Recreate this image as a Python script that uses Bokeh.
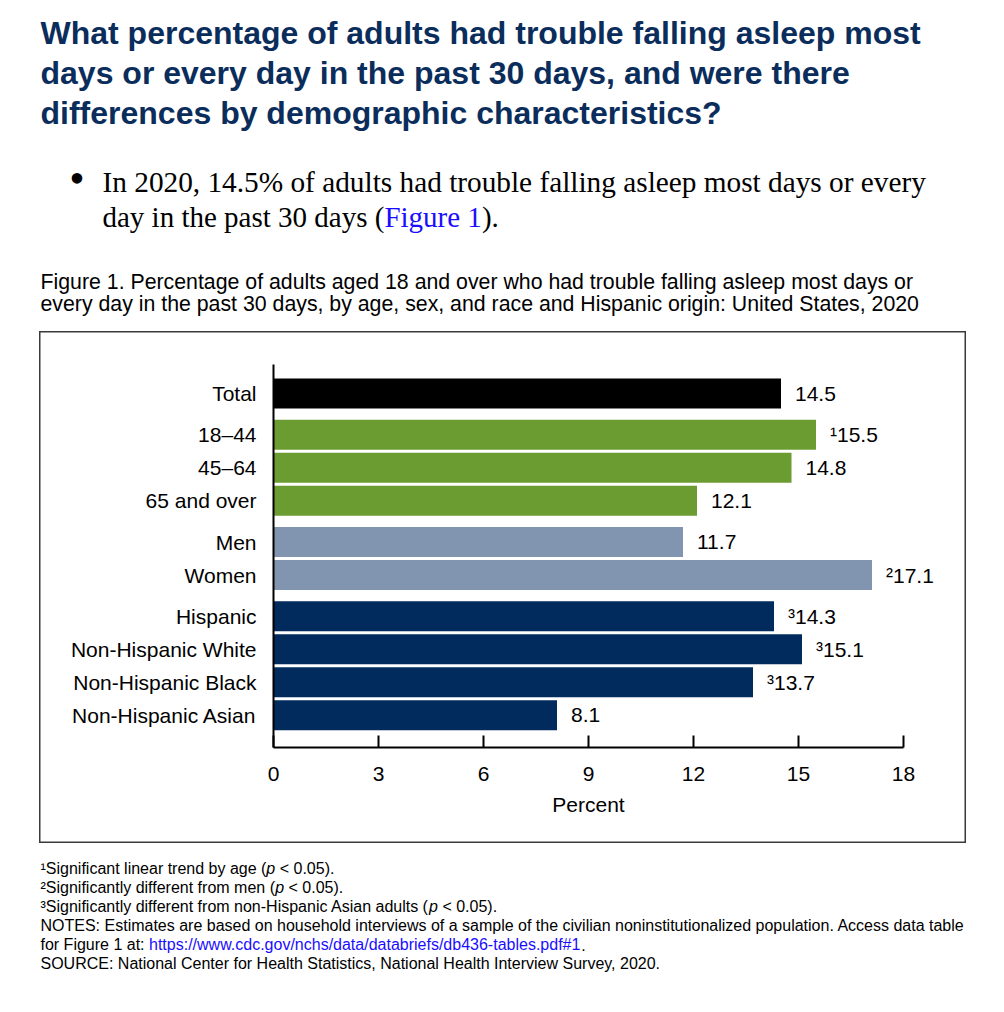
from bokeh.plotting import figure
from bokeh.layouts import column, row
from bokeh.models import (Range1d, FixedTicker, Label, LabelSet, ColumnDataSource, Spacer,
                          InlineStyleSheet, Title)
from bokeh.embed import file_html
from bokeh.resources import INLINE
from bokeh.core.properties import value

# ---------------- data ----------------
categories = ["Total", "18–44", "45–64", "65 and over", "Men", "Women",
              "Hispanic", "Non-Hispanic White", "Non-Hispanic Black", "Non-Hispanic Asian"]
groups = ["Total", "Age", "Age", "Age", "Sex", "Sex", "Race", "Race", "Race", "Race"]
percent = [14.5, 15.5, 14.8, 12.1, 11.7, 17.1, 14.3, 15.1, 13.7, 8.1]
note_marks = ["", "1", "", "", "", "2", "3", "3", "3", ""]
x_ticks = [0, 3, 6, 9, 12, 15, 18]

group_colors = {"Total": "#000000", "Age": "#6b9c31", "Sex": "#8195b0", "Race": "#002b5c"}
SUP = {"1": "¹", "2": "²", "3": "³", "": ""}

# ---------------- simple font metrics (Arial / Times, per 1000 em) ----------------
ARIAL = {' ': 278, '!': 278, '#': 556, '%': 889, '(': 333, ')': 333, ',': 278, '-': 333, '.': 278,
         '/': 278, ':': 278, '<': 584, '¹': 333, '²': 333, '³': 333,
         'A': 667, 'B': 667, 'C': 722, 'D': 722, 'E': 667, 'F': 611, 'G': 778, 'H': 722, 'I': 278,
         'J': 500, 'K': 667, 'L': 556, 'M': 833, 'N': 722, 'O': 778, 'P': 667, 'Q': 778, 'R': 722,
         'S': 667, 'T': 611, 'U': 722, 'V': 667, 'W': 944, 'X': 667, 'Y': 667, 'Z': 611,
         'a': 556, 'b': 556, 'c': 500, 'd': 556, 'e': 556, 'f': 278, 'g': 556, 'h': 556, 'i': 222,
         'j': 222, 'k': 500, 'l': 222, 'm': 833, 'n': 556, 'o': 556, 'p': 556, 'q': 556, 'r': 333,
         's': 500, 't': 278, 'u': 556, 'v': 500, 'w': 722, 'x': 500, 'y': 500, 'z': 500}
TIMES = {' ': 250, '(': 333, ')': 333, '.': 250, 'F': 556, 'a': 444, 'd': 500, 'e': 444, 'g': 500,
         'h': 500, 'i': 278, 'n': 500, 'p': 500, 'r': 333, 's': 389, 't': 278, 'u': 500, 'y': 500}
for _d in "0123456789":
    TIMES[_d] = 500


def tw(s, size, table=ARIAL):
    return sum(table.get(ch, 556) for ch in s) * size / 1000.0


SANS = "Liberation Sans"
SERIF = "Liberation Serif"
NAVY = "#0b2d5c"
LINK = "#1a0dff"
MID = 0.3465                      # em offset between baseline and em-box middle

# ---------------- page geometry ----------------
W = 990
HEAD_H = 331                      # header strip: page y 0..331
BOX_L, BOX_R, BOX_T, BOX_B = 39, 966, 331, 843
FOOT_H = 150
FL, FT, FB = 273, 364, 747        # frame left/top/bottom on the page
PX_PER_PCT = 35.0
FR = 958                          # frame right (extended so value labels are not clipped)
SLOT = 8.25                       # px per y unit


def text_strip(height, y0):
    f = figure(width=W, height=height, output_backend="svg", toolbar_location=None,
               x_range=Range1d(0, W), y_range=Range1d(y0 + height, y0),
               x_axis_location=None, y_axis_location=None,
               min_border=0, min_border_left=0, min_border_right=0,
               min_border_top=0, min_border_bottom=0)
    f.outline_line_color = None
    f.grid.visible = False
    f.border_fill_color = "white"
    f.background_fill_color = "white"
    return f


def L(f, px, baseline, text, size, color="black", font=SANS, style="normal", align="left"):
    f.add_layout(Label(x=px, y=baseline - MID * size, text=text, text_font=font,
                       text_font_size=f"{size}px", text_color=color, text_font_style=style,
                       text_align=align, text_baseline="middle"))


# ---------------- header ----------------
head = text_strip(HEAD_H, 0)
title_lines = ["What percentage of adults had trouble falling asleep most",
               "days or every day in the past 30 days, and were there",
               "differences by demographic characteristics?"]
for t, b in zip(title_lines, [44, 84, 123.5]):
    L(head, 40, b, t, 32, color=NAVY, style="bold")

head.add_layout(Label(x=76.5, y=178, text="•", text_font=SERIF, text_font_size="44px",
                      text_color="black", text_align="center", text_baseline="middle"))
L(head, 102, 192, "In 2020, 14.5% of adults had trouble falling asleep most days or every", 29.3, font=SERIF)
part1, part2, part3 = "day in the past 30 days (", "Figure 1", ")."
x1 = 102 + tw(part1, 29, TIMES)
x2 = x1 + tw(part2, 29, TIMES)
L(head, 102, 227, part1, 29, font=SERIF)
L(head, x1, 227, part2, 29, font=SERIF, color=LINK)
L(head, x2, 227, part3, 29, font=SERIF)

L(head, 40, 289, "Figure 1. Percentage of adults aged 18 and over who had trouble falling asleep most days or", 21.3)
L(head, 40, 311, "every day in the past 30 days, by age, sex, and race and Hispanic origin: United States, 2020", 21.3)

# ---------------- chart ----------------
ypos = []
pos = 0
for i, g in enumerate(groups):
    if i > 0:
        pos += 4 + (1 if g != groups[i - 1] else 0)
    ypos.append(pos)

labels = [SUP[m] + f"{v:.1f}" for v, m in zip(percent, note_marks)]
colors = [group_colors[g] for g in groups]
src = ColumnDataSource(dict(y=ypos, v=percent, lab=labels, c=colors, cat=categories))

CW, CH = BOX_R - BOX_L, BOX_B - BOX_T
box_css = InlineStyleSheet(css=":host { box-shadow: inset 0 0 0 1.5px #3a3a3a; background: transparent; }")
p = figure(width=CW, height=CH, output_backend="svg", toolbar_location=None,
           x_range=Range1d(0, (FR - FL) / PX_PER_PCT),
           y_range=Range1d(ypos[-1] + (FB - 714.75) / SLOT, -(393 - FT) / SLOT),
           min_border_left=FL - BOX_L, min_border_right=BOX_R - FR,
           min_border_top=FT - BOX_T, min_border_bottom=BOX_B - FB,
           stylesheets=[box_css])
p.outline_line_color = None
p.grid.visible = False
p.background_fill_color = "white"
p.border_fill_color = None

p.hbar(y="y", right="v", left=0, height=30 / SLOT, fill_color="c", line_color=None, source=src)
p.add_layout(LabelSet(x="v", y="y", text="lab", source=src, x_offset=14,
                      text_baseline="middle", text_align="left",
                      text_font=value(SANS), text_font_size="21px", text_color="black"))

xa = p.xaxis[0]
xa.ticker = FixedTicker(ticks=x_ticks)
xa.bounds = (x_ticks[0], x_ticks[-1])
xa.minor_tick_line_color = None
xa.major_tick_in = 12
xa.major_tick_out = 0
xa.major_tick_line_width = 2
xa.major_tick_line_color = "black"
xa.axis_line_width = 2
xa.axis_line_color = "black"
xa.major_label_text_font = SANS
xa.major_label_text_font_size = "21px"
xa.major_label_text_color = "black"
xa.major_label_standoff = 19

# axis title centred under the 0-18 axis (the frame extends further right)
axis_title = "Percent"
p.add_layout(Title(text=axis_title, align="left",
                   offset=x_ticks[-1] * PX_PER_PCT / 2 - tw(axis_title, 21) / 2,
                   text_font=SANS, text_font_size="21px", text_font_style="normal",
                   text_color="black", standoff=14), "below")

ya = p.yaxis[0]
ya.ticker = FixedTicker(ticks=ypos)
ya.major_label_overrides = {y: c for y, c in zip(ypos, categories)}
ya.major_tick_line_color = None
ya.minor_tick_line_color = None
ya.axis_line_width = 2
ya.axis_line_color = "black"
ya.major_label_text_font = SANS
ya.major_label_text_font_size = "21px"
ya.major_label_text_color = "black"
ya.major_label_standoff = 11

chart_row = row(Spacer(width=BOX_L, height=CH), p)

# ---------------- footer ----------------
foot = text_strip(FOOT_H, BOX_B)
FS = 16
base = [874, 893, 912, 931, 950, 969]


def with_italic_p(before, after, by):
    L(foot, 40, by, before, FS)
    xp = 40 + tw(before, FS)
    L(foot, xp, by, "p", FS, style="italic")
    L(foot, xp + tw("p ", FS), by, after, FS)


with_italic_p("¹Significant linear trend by age (", "< 0.05).", base[0])
with_italic_p("²Significantly different from men (", "< 0.05).", base[1])
with_italic_p("³Significantly different from non-Hispanic Asian adults (", "< 0.05).", base[2])
L(foot, 40, base[3], "NOTES: Estimates are based on household interviews of a sample of the civilian "
                     "noninstitutionalized population. Access data table", FS)
pre = "for Figure 1 at: "
url = "https://www.cdc.gov/nchs/data/databriefs/db436-tables.pdf#1"
ux = 40 + tw(pre, FS)
L(foot, 40, base[4], pre, FS)
L(foot, ux, base[4], url, FS, color=LINK)
L(foot, ux + tw(url, FS), base[4], ".", FS)
L(foot, 40, base[5], "SOURCE: National Center for Health Statistics, National Health Interview Survey, 2020.", FS)

page = column(head, chart_row, foot)
open("out.html", "w").write(file_html(page, INLINE))
